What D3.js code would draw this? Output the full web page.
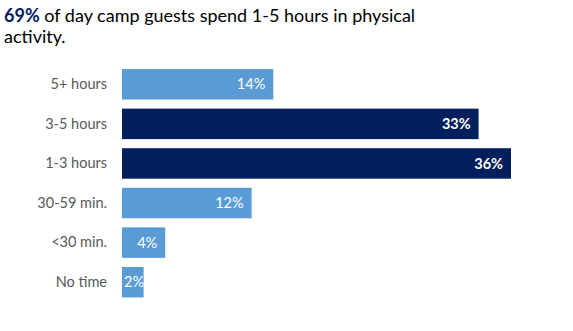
<!DOCTYPE html>
<html><head><meta charset="utf-8">
<script src="https://cdn.jsdelivr.net/npm/d3@7"></script>
<style>
html,body{margin:0;padding:0;background:#fff;}
svg{display:block;font-family:Lato, "Open Sans", sans-serif;}
</style></head>
<body><svg id="chart" width="573" height="331"></svg>
<script>
const categories = ["5+ hours", "3-5 hours", "1-3 hours", "30-59 min.", "<30 min.", "No time"];
const values = [14, 33, 36, 12, 4, 2];
const highlighted = [false, true, true, false, false, false];
const titleBold = "69%";
const titleRest1 = " of day camp guests spend 1-5 hours in physical";
const titleLine2 = "activity.";

const svg = d3.select("#chart");
const x = d3.scaleLinear().domain([0, 36]).range([122, 511]);
const y = d3.scaleBand().domain(categories).range([64.5, 302]).paddingInner(0.23).paddingOuter(0.115);

const t1 = svg.append("text").attr("x", 4).attr("y", 22).attr("font-size", 18).attr("fill", "#000");
t1.append("tspan").attr("font-weight", "bold").attr("fill", "#002060").text(titleBold);
t1.append("tspan").text(titleRest1);
svg.append("text").attr("x", 4).attr("y", 43).attr("font-size", 18).attr("fill", "#000").text(titleLine2);

const axis = d3.axisLeft(y).tickSize(0).tickPadding(15);
const g = svg.append("g").attr("transform", `translate(${x(0)},0)`).call(axis);
g.select(".domain").remove();
g.selectAll("text").attr("font-size", 14.5).attr("fill", "#595959").attr("font-family", "Lato, 'Open Sans', sans-serif");

const data = categories.map((c, i) => ({c, v: values[i], h: highlighted[i]}));
svg.selectAll("rect.bar").data(data).join("rect").attr("class", "bar")
  .attr("x", x(0)).attr("y", d => y(d.c)).attr("width", d => x(d.v) - x(0)).attr("height", y.bandwidth())
  .attr("fill", d => d.h ? "#001F5C" : "#5B9BD5");

svg.selectAll("text.val").data(data).join("text").attr("class", "val")
  .attr("y", d => y(d.c) + y.bandwidth() / 2).attr("dy", "0.35em")
  .attr("font-size", 14.5).attr("fill", "#fff").attr("font-weight", d => d.h ? "bold" : "normal")
  .text(d => d.v + "%")
  .each(function(d) {
    const w = this.getComputedTextLength();
    let end = x(d.v) - 8;
    if (end - w < x(0) + 2) end = x(0) + 2 + w;
    d3.select(this).attr("x", end).attr("text-anchor", "end");
  });
</script></body></html>
